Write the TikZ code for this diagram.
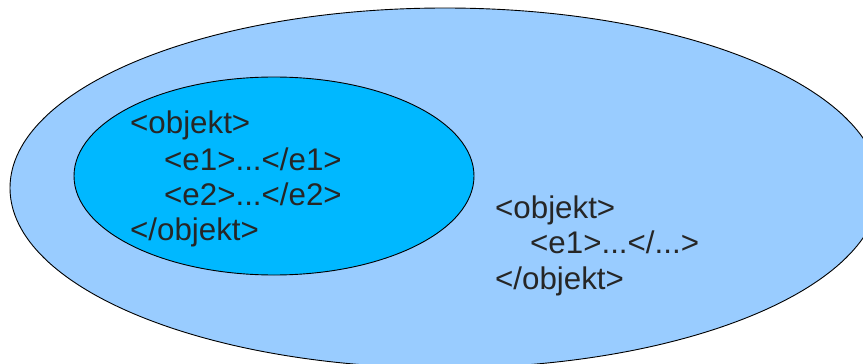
\documentclass[tikz,border=0pt]{standalone}
\usepackage{fontspec}
\setmainfont{Liberation Sans}
\usetikzlibrary{shapes.geometric}
\definecolor{outerblue}{HTML}{99CCFF}
\definecolor{innerblue}{HTML}{00B8FF}
\definecolor{ink}{HTML}{262626}
\begin{document}
\begin{tikzpicture}[x=1pt,y=-1pt,
  blob/.style={ellipse, draw=black, line width=0.9pt, inner sep=0pt},
  code/.style={anchor=base west, inner sep=0pt, text=ink,
    font=\fontsize{31.3}{35}\selectfont}]
\useasboundingbox (0,0) rectangle (863,364);
\clip (0,0) rectangle (863,364);
% outer set
\node (outer) [blob, fill=outerblue, minimum width=870pt, minimum height=360pt] at (445,188) {};
% inner set
\node (inner) [blob, fill=innerblue, minimum width=400pt, minimum height=198pt] at (274,176) {};
% element inside the inner set
\node (i1) [code] at (130,133) {<objekt>};
\node (i2) [code] at (164,170) {<e1>...</e1>};
\node (i3) [code] at (164,205) {<e2>...</e2>};
\node (i4) [code] at (130,240) {</objekt>};
% element in the outer set only
\node (o1) [code] at (495,218) {<objekt>};
\node (o2) [code] at (530,253) {<e1>...</...>};
\node (o3) [code] at (495,289) {</objekt>};
\end{tikzpicture}
\end{document}
